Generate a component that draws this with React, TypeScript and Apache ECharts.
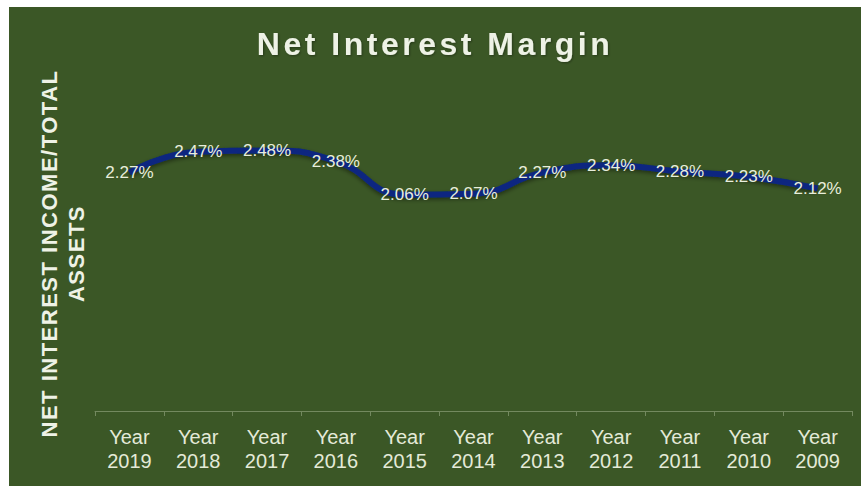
import React, { useEffect, useRef } from "react";
import * as echarts from "echarts";

const categories = [
  "Year\n2019", "Year\n2018", "Year\n2017", "Year\n2016", "Year\n2015", "Year\n2014",
  "Year\n2013", "Year\n2012", "Year\n2011", "Year\n2010", "Year\n2009",
];
const nimValues = [2.27, 2.47, 2.48, 2.38, 2.06, 2.07, 2.27, 2.34, 2.28, 2.23, 2.12];

const TITLE = "Net Interest Margin";
const Y_NAME = "NET INTEREST INCOME/TOTAL\nASSETS";
const FONT = "'Liberation Sans', Arial, Helvetica, sans-serif";
const TEXT_COLOR = "#eef2e6";

export default function App() {
  const ref = useRef<HTMLDivElement>(null);

  useEffect(() => {
    document.body.style.margin = "0";
    if (!ref.current) return;
    const chart = echarts.init(ref.current, null, { renderer: "svg" });
    chart.setOption({
      animation: false,
      backgroundColor: "#3b5726",
      title: {
        text: TITLE,
        left: "center",
        top: 16,
        textStyle: {
          color: TEXT_COLOR,
          fontFamily: FONT,
          fontWeight: "bold",
          fontSize: 32,
          textShadowColor: "rgba(0,0,0,0.35)",
          textShadowBlur: 2,
          textShadowOffsetX: 1,
          textShadowOffsetY: 1,
        },
      },
      grid: { left: 86, right: 9, top: 89, bottom: 75 },
      xAxis: {
        type: "category",
        data: categories,
        boundaryGap: true,
        axisLine: { lineStyle: { color: "#73895f", width: 1 } },
        axisTick: { show: true, length: 5, lineStyle: { color: "#73895f" } },
        axisLabel: {
          color: "#e4ead8",
          fontFamily: FONT,
          fontSize: 20,
          lineHeight: 24,
          margin: 14,
        },
      },
      yAxis: {
        type: "value",
        min: 0,
        max: 3,
        show: true,
        axisLine: { show: false },
        axisTick: { show: false },
        axisLabel: { show: false },
        splitLine: { show: false },
        name: Y_NAME,
        nameLocation: "middle",
        nameRotate: 90,
        nameGap: 5,
        nameTextStyle: {
          color: TEXT_COLOR,
          fontFamily: FONT,
          fontWeight: "bold",
          fontSize: 22,
          lineHeight: 27,
          align: "center",
        },
      },
      series: [
        {
          type: "line",
          data: nimValues,
          smooth: true,
          symbol: "circle",
          symbolSize: 0.1,
          itemStyle: { color: "#0a2680" },
          lineStyle: {
            color: "#0a2680",
            width: 6,
            shadowColor: "rgba(0,0,0,0.45)",
            shadowBlur: 4,
            shadowOffsetY: 2,
          },
          label: {
            show: true,
            position: "inside",
            color: "#e8eedc",
            fontFamily: FONT,
            fontSize: 17,
            formatter: (p: any) => `${Number(p.value).toFixed(2)}%`,
          },
        },
      ],
    });

    // Widen the tracking of the title and the axis name
    const svg = ref.current.querySelector("svg");
    if (svg) {
      svg.querySelectorAll("text").forEach((t) => {
        const s = t.textContent || "";
        if (s === TITLE) (t as SVGTextElement).style.letterSpacing = "3.5px";
        else if (s.startsWith("NET INTEREST") || s === "ASSETS")
          (t as SVGTextElement).style.letterSpacing = "1.5px";
      });
    }

    return () => chart.dispose();
  }, []);

  return (
    <div style={{ position: "relative", width: 861, height: 486, background: "#ffffff" }}>
      <div
        ref={ref}
        style={{ position: "absolute", left: 9, top: 7, width: 852, height: 479 }}
      />
    </div>
  );
}
